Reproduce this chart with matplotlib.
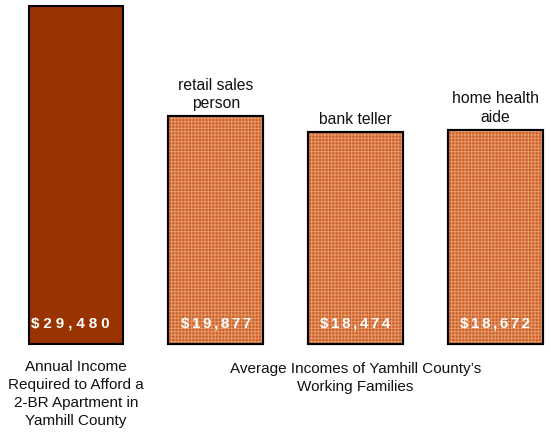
import matplotlib
matplotlib.use("Agg")
import matplotlib.pyplot as plt

categories = ["required", "retail sales\nperson", "bank teller", "home health\naide"]
values = [29480, 19877, 18474, 18672]
value_labels = ["$29,480", "$19,877", "$18,474", "$18,672"]
bottom_left = "Annual Income\nRequired to Afford a\n2-BR Apartment in\nYamhill County"
bottom_right = "Average Incomes of Yamhill County\u2019s\nWorking Families"

plt.rcParams['font.family'] = ['Liberation Sans', 'DejaVu Sans']
plt.rcParams['hatch.linewidth'] = 0.7

W, H = 551, 440
fig = plt.figure(figsize=(W / 100, H / 100), dpi=100)
ax = fig.add_axes([0, 0, 1, 1])
ax.set_axis_off()

px_x = 139.7
x0 = 76
ax.set_xlim(-x0 / px_x, (W - x0) / px_x)
py = 338 / 29480.0
ax.set_ylim(-(H - 344) / py, 6 / py + 29480)

for i, v in enumerate(values):
    if i == 0:
        ax.bar(i, v, width=0.68, color='#993300', edgecolor='black', linewidth=1.5)
    else:
        ax.bar(i, v, width=0.68, color='#c9602c', edgecolor='black', linewidth=1.5)
        ax.bar(i, v, width=0.68, color='none', edgecolor='#e89a68', hatch='+++++', linewidth=0)
        ax.bar(i, v, width=0.68, color='none', edgecolor='black', linewidth=1.5)

def spaced(s, sep):
    return sep.join(list(s))

for i, (v, lab) in enumerate(zip(values, value_labels)):
    sep = '\u2005' if i == 0 else '\u2006'
    ax.text(i - (0.04 if i == 0 else 0), 21 / py, spaced(lab, sep), ha='center', va='center',
            color='white', fontweight='bold', fontsize=11)
    if i > 0:
        ax.text(i, v + 8 / py, categories[i], ha='center', va='baseline',
                fontsize=11.3, linespacing=1.3, color='#111111')

ax.text(0, -(360 - 344) / py, bottom_left, ha='center', va='top', fontsize=11,
        linespacing=1.36, color='#111111')
ax.text(2, -(362 - 344) / py, bottom_right, ha='center', va='top', fontsize=11,
        linespacing=1.38, color='#111111')

fig.savefig('out.png', dpi=100)
